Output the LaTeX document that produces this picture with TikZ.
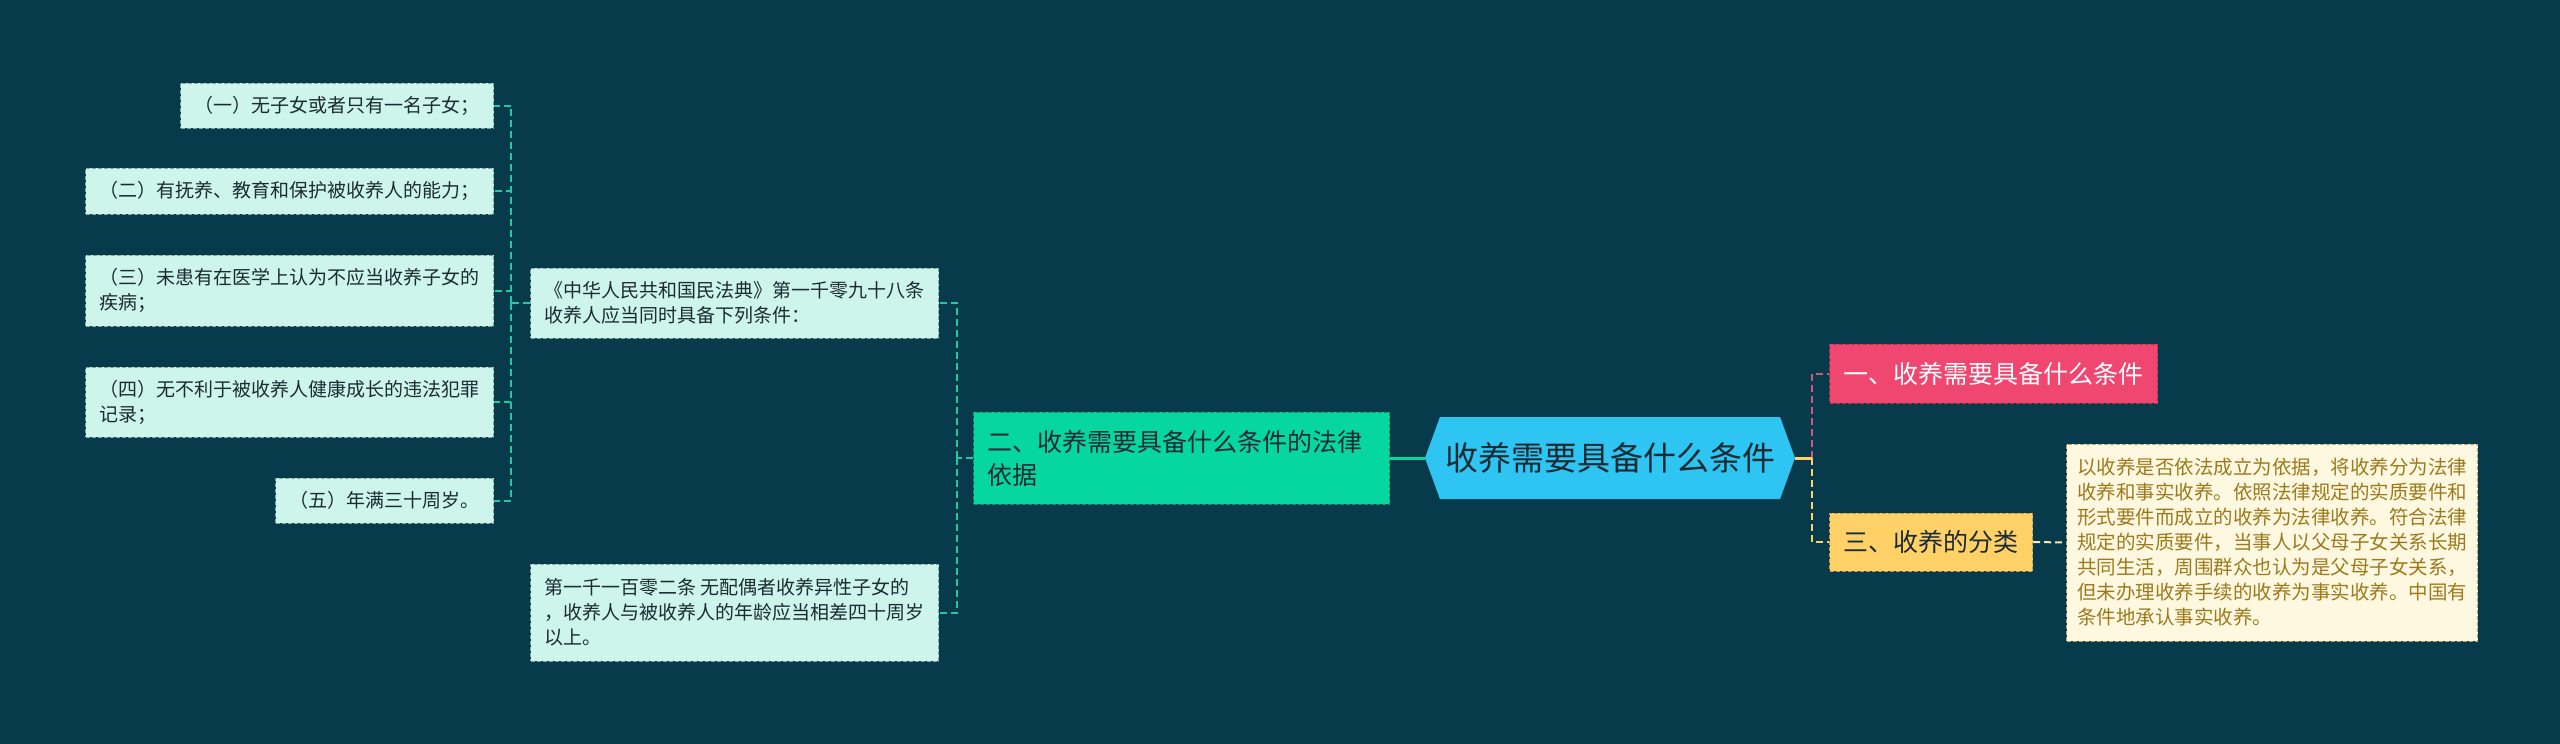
\documentclass[tikz,border=0pt]{standalone}
\usepackage{fontspec}
\setmainfont{Noto Sans CJK SC}
\usetikzlibrary{shapes.symbols}

\definecolor{bgnavy}{HTML}{073B4C}
\definecolor{hubblue}{HTML}{2EC5F2}
\definecolor{inkdark}{HTML}{1C2B33}
\definecolor{lawgreen}{HTML}{06D6A0}
\definecolor{leafteal}{HTML}{20C9A3}
\definecolor{mintfill}{HTML}{CDF5EB}
\definecolor{mintline}{HTML}{7FA89E}
\definecolor{pinkred}{HTML}{EF476F}
\definecolor{pinklink}{HTML}{D45680}
\definecolor{sunyellow}{HTML}{FFD166}
\definecolor{notefill}{HTML}{FFF8E1}
\definecolor{noteline}{HTML}{B9A46E}
\definecolor{notetext}{HTML}{9C7A1C}

\tikzstyle{hub} = [
        signal, signal to=east and west, signal pointer angle=140,
        fill=hubblue, text=inkdark, minimum width=370pt, minimum height=82pt,
        inner sep=0pt, font=\fontsize{33}{40}\selectfont
    ]
\tikzstyle{topic} = [
        rectangle, line width=1pt, dash pattern=on 4pt off 2pt, align=left,
        inner xsep=14pt, font=\fontsize{25}{33}\selectfont
    ]
\tikzstyle{leaf} = [
        rectangle, draw=mintline, fill=mintfill, text=inkdark, line width=1pt,
        dash pattern=on 4pt off 2pt, align=left, inner xsep=14pt,
        font=\fontsize{19}{25}\selectfont
    ]
\tikzstyle{note} = [
        rectangle, draw=noteline, fill=notefill, text=notetext, line width=1pt,
        dash pattern=on 4pt off 2pt, align=left, inner xsep=10.5pt,
        font=\fontsize{19.5}{25}\selectfont
    ]
\tikzstyle{link} = [line width=2pt, dash pattern=on 7pt off 4pt]
\tikzstyle{tmp} = [coordinate]

\begin{document}
\begin{tikzpicture}[x=1pt, y=-1pt]
        \fill [bgnavy] (0,0) rectangle (2560,744);
        \useasboundingbox (0,0) rectangle (2560,744);
        % centre and the two sides
        \node [hub] (root) at (1610,458) {收养需要具备什么条件};
        \node [topic, draw=lawgreen!70!black, fill=lawgreen, text=inkdark, text width=388pt,
            minimum height=92pt, anchor=east] (basis) at (1390,458)
            {二、收养需要具备什么条件的法律\\依据};
        \node [topic, draw=pinkred!75!black, fill=pinkred, text=white,
            minimum height=59pt, anchor=west] (need) at (1829,373.5)
            {一、收养需要具备什么条件};
        \node [topic, draw=sunyellow!75!black, fill=sunyellow, text=inkdark,
            minimum height=58pt, anchor=west] (kinds) at (1829,542) {三、收养的分类};
        \node [note, minimum height=197pt, anchor=west] (kindsnote) at (2066,542.5)
            {以收养是否依法成立为依据，将收养分为法律\\
             收养和事实收养。依照法律规定的实质要件和\\
             形式要件而成立的收养为法律收养。符合法律\\
             规定的实质要件，当事人以父母子女关系长期\\
             共同生活，周围群众也认为是父母子女关系，\\
             但未办理收养手续的收养为事实收养。中国有\\
             条件地承认事实收养。};
        % the two articles
        \node [leaf, minimum height=70pt, anchor=east] (civil) at (939,303)
            {《中华人民共和国民法典》第一千零九十八条\\收养人应当同时具备下列条件：};
        \node [leaf, minimum height=97pt, anchor=east] (art) at (939,612.5)
            {第一千一百零二条 无配偶者收养异性子女的\\，收养人与被收养人的年龄应当相差四十周岁\\以上。};
        % the five conditions
        \node [leaf, minimum height=45pt, anchor=east] (c1) at (494,105.5) {（一）无子女或者只有一名子女；};
        \node [leaf, minimum height=46pt, anchor=east] (c2) at (494,191) {（二）有抚养、教育和保护被收养人的能力；};
        \node [leaf, minimum height=71pt, anchor=east] (c3) at (494,290.5) {（三）未患有在医学上认为不应当收养子女的\\疾病；};
        \node [leaf, minimum height=70pt, anchor=east] (c4) at (494,402) {（四）无不利于被收养人健康成长的违法犯罪\\记录；};
        \node [leaf, minimum height=45pt, anchor=east] (c5) at (494,500.5) {（五）年满三十周岁。};
        \node [tmp] (jl) at (511,303) {};
        \node [tmp] (jm) at (957,458) {};
        \node [tmp] (jr) at (1812,458) {};
        \draw [line width=3pt, lawgreen] (root.west) -- (basis.east);
        \draw [link, leafteal] (basis.west) -- (jm);
        \draw [link, leafteal] (jm) |- (civil.east);
        \draw [link, leafteal] (jm) |- (art.east);
        \draw [link, leafteal] (civil.west) -- (jl);
        \foreach \c in {c1,c2,c3,c4,c5}
            \draw [link, leafteal] (jl) |- (\c.east);
        \draw [link, pinklink] (jr) |- (need.west);
        \draw [line width=3pt, sunyellow] (root.east) -- (jr);
        \draw [link, sunyellow] (jr) |- (kinds.west);
        \draw [link, sunyellow!55!white] (kinds.east) -- (kindsnote.west);
    \end{tikzpicture}
\end{document}
